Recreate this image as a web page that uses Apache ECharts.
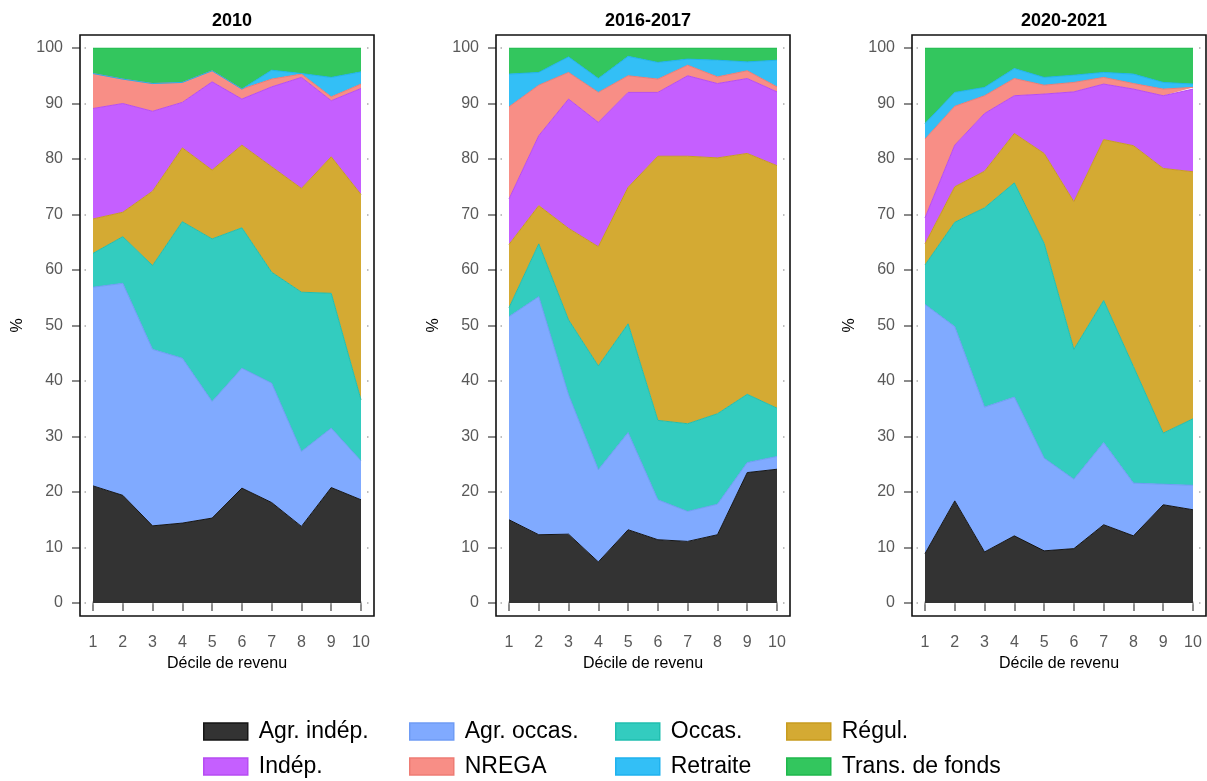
<!DOCTYPE html>
<html>
<head>
<meta charset="utf-8">
<script src="https://cdn.jsdelivr.net/npm/echarts@6/dist/echarts.min.js"></script>
<style>
html,body{margin:0;padding:0;background:#fff;}
#chart{width:1207px;height:781px;}
</style>
</head>
<body>
<div id="chart"></div>
<script>
// ---- Data (shares in %, by income decile) ----
const deciles = ['1','2','3','4','5','6','7','8','9','10'];
const panelTitles = ['2010','2016-2017','2020-2021'];
const seriesNames = ['Agr. indép.','Agr. occas.','Occas.','Régul.','Indép.','NREGA','Retraite','Trans. de fonds'];
const yTicks = [0,10,20,30,40,50,60,70,80,90,100];

// 2010
const agrIndep2010  = [21.1, 19.4, 13.9, 14.4, 15.3, 20.7, 18.1, 13.8, 20.8, 18.6];
const agrOccas2010  = [35.8, 38.2, 31.8, 29.7, 21.0, 21.6, 21.5, 13.5, 10.7, 7.0];
const occas2010     = [6.1, 8.4, 15.1, 24.6, 29.3, 25.3, 20.0, 28.7, 24.3, 11.0];
const regul2010     = [6.2, 4.4, 13.4, 13.3, 12.4, 14.9, 19.0, 18.7, 24.6, 37.0];
const indep2010     = [19.9, 19.6, 14.4, 8.2, 15.9, 8.3, 14.4, 20.0, 10.1, 19.1];
const nrega2010     = [6.3, 4.4, 5.0, 3.6, 2.0, 1.8, 1.4, 0.6, 0.7, 0.8];
const retraite2010  = [0.0, 0.0, 0.0, 0.0, 0.0, 0.0, 1.6, 0.1, 3.5, 2.2];
const trans2010     = [4.6, 5.6, 6.4, 6.2, 4.1, 7.4, 4.0, 4.6, 5.3, 4.3];

// 2016-2017
const agrIndep2016  = [15.0, 12.3, 12.4, 7.4, 13.2, 11.4, 11.1, 12.3, 23.5, 24.1];
const agrOccas2016  = [36.6, 42.9, 25.1, 16.6, 17.5, 7.2, 5.4, 5.5, 1.8, 2.3];
const occas2016     = [1.6, 9.5, 13.5, 18.7, 19.6, 14.3, 15.8, 16.3, 12.3, 8.7];
const regul2016     = [11.4, 6.9, 16.5, 21.5, 24.6, 47.6, 48.2, 46.1, 43.4, 43.7];
const indep2016     = [8.2, 12.6, 23.3, 22.4, 17.1, 11.5, 14.5, 13.4, 13.5, 13.3];
const nrega2016     = [16.6, 9.1, 4.8, 5.4, 3.0, 2.4, 1.9, 1.2, 1.4, 0.9];
const retraite2016  = [5.9, 2.3, 2.8, 2.5, 3.5, 3.0, 1.1, 3.0, 1.6, 4.8];
const trans2016     = [4.7, 4.4, 1.6, 5.5, 1.5, 2.6, 2.0, 2.2, 2.5, 2.2];

// 2020-2021
const agrIndep2020  = [8.9, 18.4, 9.2, 12.1, 9.4, 9.8, 14.1, 12.1, 17.7, 16.8];
const agrOccas2020  = [44.9, 31.4, 26.1, 25.0, 16.7, 12.5, 14.8, 9.5, 3.7, 4.4];
const occas2020     = [7.1, 18.8, 35.9, 38.6, 38.7, 23.4, 25.6, 21.0, 9.2, 12.0];
const regul2020     = [3.8, 6.4, 6.6, 8.9, 16.2, 26.6, 29.0, 39.8, 47.7, 44.5];
const indep2020     = [4.7, 7.5, 10.4, 6.8, 10.7, 19.8, 10.0, 10.2, 13.1, 14.9];
const nrega2020     = [14.2, 7.0, 3.2, 3.1, 1.6, 1.7, 1.2, 1.0, 1.2, 0.3];
const retraite2020  = [2.8, 2.5, 1.5, 1.8, 1.4, 1.3, 0.9, 1.7, 1.2, 0.6];
const trans2020     = [13.6, 8.0, 7.1, 3.7, 5.3, 4.9, 4.4, 4.7, 6.2, 6.5];

const panelData = [
  [agrIndep2010, agrOccas2010, occas2010, regul2010, indep2010, nrega2010, retraite2010, trans2010],
  [agrIndep2016, agrOccas2016, occas2016, regul2016, indep2016, nrega2016, retraite2016, trans2016],
  [agrIndep2020, agrOccas2020, occas2020, regul2020, indep2020, nrega2020, retraite2020, trans2020]
];

// ---- Styles ----
const fills = ['#333333','#80AAFF','#33CCBF','#D4AA33','#C55FFF','#F88E86','#33BFF6','#33C65E'];
const edges = ['#151515','#6f9cf5','#20bfb0','#c89c1f','#b64cf2','#ee7c74','#1fb2ee','#1fb84c'];
const FONT = 'Liberation Sans, Arial, sans-serif';
const PANEL_DX = 416;
const gridLeft = 93, gridTop = 48, gridW = 268, gridH = 555;

const grids = [], xAxes = [], yAxes = [], series = [], titles = [], graphics = [];
const tickColor = '#666';

panelTitles.forEach((t, i) => {
  const left = gridLeft + PANEL_DX * i;
  grids.push({left: left, top: gridTop, width: gridW, height: gridH, containLabel: false});
  titles.push({
    text: t, left: left + gridW / 2, top: 7, textAlign: 'center',
    textStyle: {fontFamily: FONT, fontSize: 18, fontWeight: 'bold', color: '#000'}
  });
  const mainX = xAxes.length;
  xAxes.push({
    type: 'category', gridIndex: i, data: deciles, boundaryGap: false, position: 'bottom', offset: 13,
    axisLine: {show: false},
    axisTick: {show: true, length: 8, alignWithLabel: true, lineStyle: {color: tickColor, width: 1.5}},
    axisLabel: {fontFamily: FONT, fontSize: 16, color: '#595959', margin: 19},
    splitLine: {show: false},
    name: 'Décile de revenu', nameLocation: 'middle', nameGap: 34,
    nameTextStyle: {fontFamily: FONT, fontSize: 16, color: '#000'}
  });
  // decorative inner tick dots (top / bottom)
  xAxes.push({
    type: 'value', gridIndex: i, min: 1, max: 10, interval: 1, position: 'top', offset: 9,
    axisLine: {show: false}, axisLabel: {show: false}, splitLine: {show: false},
    axisTick: {show: true, length: 1.5, lineStyle: {color: '#aaa', width: 1.5}}
  });
  xAxes.push({
    type: 'value', gridIndex: i, min: 1, max: 10, interval: 1, position: 'bottom', offset: 6,
    axisLine: {show: false}, axisLabel: {show: false}, splitLine: {show: false},
    axisTick: {show: true, length: 1.5, lineStyle: {color: '#aaa', width: 1.5}}
  });
  const mainY = yAxes.length;
  yAxes.push({
    type: 'value', gridIndex: i, min: 0, max: 100, interval: 10, position: 'left', offset: 13,
    axisLine: {show: false},
    axisTick: {show: true, length: 8, lineStyle: {color: tickColor, width: 1.5}},
    axisLabel: {fontFamily: FONT, fontSize: 16, color: '#595959', margin: 17,
      formatter: v => (yTicks.indexOf(v) >= 0 ? String(v) : '')},
    splitLine: {show: false},
    name: '%', nameLocation: 'middle', nameRotate: 90, nameGap: 54,
    nameTextStyle: {fontFamily: FONT, fontSize: 16, color: '#000'}
  });
  yAxes.push({
    type: 'value', gridIndex: i, min: 0, max: 100, interval: 10, position: 'left', offset: 7,
    axisLine: {show: false}, axisLabel: {show: false}, splitLine: {show: false},
    axisTick: {show: true, length: 1.5, lineStyle: {color: '#aaa', width: 1.5}}
  });
  yAxes.push({
    type: 'value', gridIndex: i, min: 0, max: 100, interval: 10, position: 'right', offset: 6,
    axisLine: {show: false}, axisLabel: {show: false}, splitLine: {show: false},
    axisTick: {show: true, length: 1.5, lineStyle: {color: '#aaa', width: 1.5}}
  });

  panelData[i].forEach((vals, k) => {
    series.push({
      name: seriesNames[k], type: 'line', stack: 'p' + i,
      xAxisIndex: mainX, yAxisIndex: mainY,
      data: vals, symbol: 'none', smooth: false,
      lineStyle: {color: edges[k], width: 1},
      itemStyle: {color: fills[k]},
      areaStyle: {color: fills[k], opacity: 1},
      emphasis: {disabled: true},
      animation: false
    });
  });

  graphics.push({
    type: 'rect', z: 100,
    shape: {x: 80 + PANEL_DX * i, y: 35, width: 294, height: 581},
    style: {fill: null, stroke: '#111', lineWidth: 1.6}
  });
});

// Legend: 2 rows x 4 columns, one legend component per item
const legendColLeft = [198, 404, 610, 781];
const legendRowTop = [715, 750];
const legendLayout = [[0, 0, 0], [1, 0, 1], [2, 0, 2], [3, 0, 3], [4, 1, 0], [5, 1, 1], [6, 1, 2], [7, 1, 3]];
const legends = legendLayout.map(([k, r, c]) => ({
  orient: 'horizontal', left: legendColLeft[c], top: legendRowTop[r],
  icon: 'rect', itemWidth: 44, itemHeight: 17,
  selectedMode: false,
  textStyle: {fontFamily: FONT, fontSize: 23, color: '#000', padding: [0, 0, 0, 6]},
  data: [{
    name: seriesNames[k],
    itemStyle: {color: fills[k], borderColor: edges[k], borderWidth: 1.5}
  }]
}));

const chart = echarts.init(document.getElementById('chart'), null, {renderer: 'canvas'});
chart.setOption({
  animation: false,
  backgroundColor: '#fff',
  textStyle: {fontFamily: FONT},
  title: titles,
  grid: grids,
  xAxis: xAxes,
  yAxis: yAxes,
  legend: legends,
  series: series,
  graphic: graphics
});
</script>
</body>
</html>
